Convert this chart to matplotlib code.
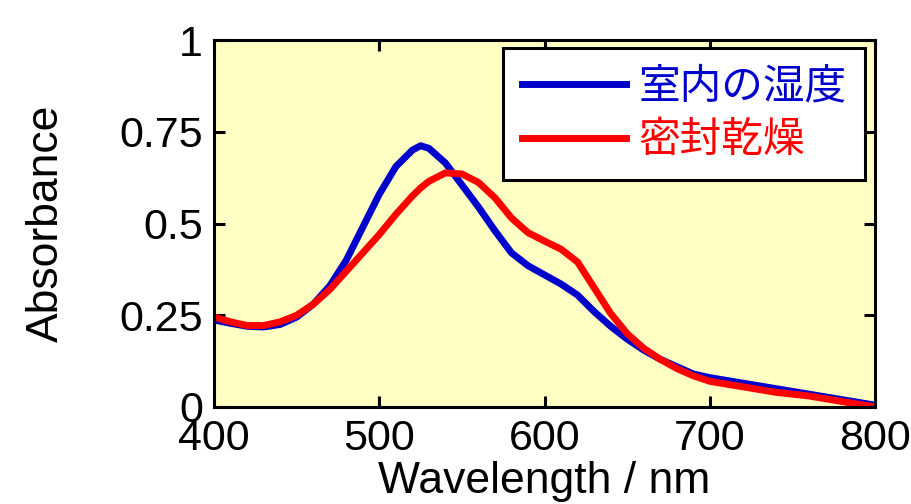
import numpy as np
import matplotlib.pyplot as plt

# absorbance spectra
wavelength = [400, 410, 420, 430, 440, 450, 460, 470, 480, 490, 500, 510, 520, 525,
              530, 540, 550, 560, 570, 580, 590, 600, 610, 620, 630, 640, 650, 660,
              670, 680, 690, 700, 720, 740, 760, 780, 800]
abs_room = [0.237, 0.228, 0.220, 0.218, 0.225, 0.245, 0.28, 0.33, 0.40, 0.49, 0.58,
            0.655, 0.70, 0.712, 0.705, 0.665, 0.605, 0.545, 0.48, 0.42, 0.385, 0.36,
            0.335, 0.305, 0.26, 0.22, 0.185, 0.155, 0.13, 0.11, 0.09, 0.08, 0.065,
            0.05, 0.035, 0.02, 0.005]
abs_sealed = [0.245, 0.232, 0.222, 0.222, 0.232, 0.25, 0.28, 0.32, 0.37, 0.42, 0.47,
              0.525, 0.575, 0.597, 0.615, 0.638, 0.635, 0.612, 0.57, 0.515, 0.475, 0.452,
              0.43, 0.395, 0.325, 0.255, 0.20, 0.16, 0.13, 0.105, 0.085, 0.07, 0.055,
              0.04, 0.03, 0.015, 0.0]
labels = ['室内の湿度', '密封乾燥']
xticks = [400, 500, 600, 700, 800]
yticks = [0, 0.25, 0.5, 0.75, 1]
yticklabels = ['0', '0.25', '0.5', '0.75', '1']

plt.rcParams['font.family'] = ['Liberation Sans', 'DejaVu Sans']

fig = plt.figure(figsize=(9.11, 5.04), dpi=100)
ax = fig.add_axes([0.235, 0.1925, 0.7255, 0.728])
ax.set_facecolor('#FFFFC4')

ax.plot(wavelength, abs_room, color='#0000CC', lw=5, label=labels[0])
ax.plot(wavelength, abs_sealed, color='#FF0000', lw=5, label=labels[1])

ax.set_xlim(400, 800)
ax.set_ylim(0, 1)
ax.set_xticks(xticks)
ax.set_yticks(yticks)
ax.set_yticklabels(yticklabels)
ax.tick_params(direction='in', length=8, width=2.2, labelsize=31,
               top=True, right=True)
ax.tick_params(axis='x', pad=9)
ax.tick_params(axis='y', pad=8)
for s in ax.spines.values():
    s.set_linewidth(2.2)

ax.set_xlabel('Wavelength / nm', fontsize=32, labelpad=1)
ax.set_ylabel('Absorbance', fontsize=32, labelpad=38)

leg = ax.legend(loc='upper right', bbox_to_anchor=(0.985, 0.978), borderaxespad=0,
                prop={'family': ['Noto Sans CJK JP', 'DejaVu Sans'], 'size': 30},
                labelcolor=['#0000CC', '#FF0000'], handlelength=2.5,
                handletextpad=0.3, fancybox=False, framealpha=1,
                edgecolor='black', borderpad=0.45, labelspacing=0.3)
leg.get_frame().set_linewidth(2.2)
for h in leg.get_lines():
    h.set_linewidth(5)

fig.savefig('out.png', dpi=100)
